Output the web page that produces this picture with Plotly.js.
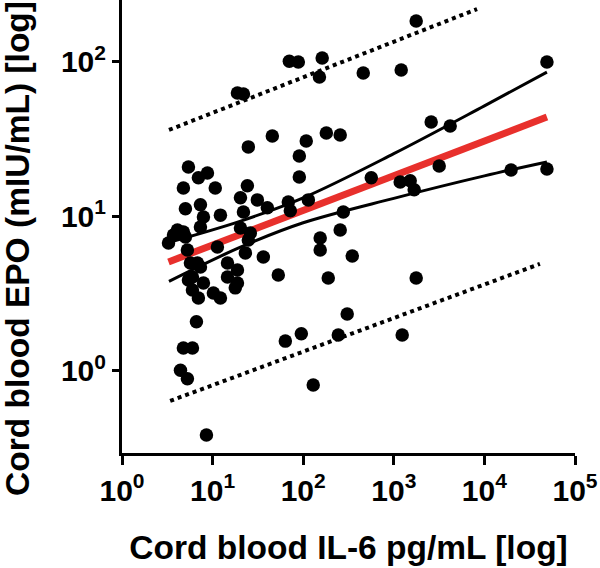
<!DOCTYPE html>
<html>
<head>
<meta charset="utf-8">
<script src="https://cdn.plot.ly/plotly-3.0.1.min.js"></script>
<style>html,body{margin:0;padding:0;background:#fff;}#chart{width:600px;height:568px;}</style>
</head>
<body>
<div id="chart"></div>
<script>
// Scatter data: cord blood IL-6 (pg/mL) vs cord blood EPO (mIU/mL)
var il6 = [
  49000, 49000, 19700, 1766, 2585, 4190, 3170, 1207, 460, 70.3,
  88.3, 162, 151, 45.6, 108, 180, 256, 90.6, 90.6, 564,
  1177, 1517, 1679, 277, 256, 154, 154, 348, 189, 1766,
  306, 63.5, 95.3, 244, 1238, 129, 18.8, 21.9, 24.8, 114,
  68.5, 72.1, 40.2, 31.2, 21.9, 24.2, 20.3, 36.3, 53.1, 20.3,
  26.1, 23.0, 18.8, 18.8, 24.8,
  5.41, 8.77, 6.97, 4.76, 10.7, 5.01, 7.34, 7.92, 12.2, 4.76,
  7.34, 3.70, 3.26, 5.27, 11.3, 5.01, 5.69, 7.34, 5.41, 7.92,
  14.6, 14.6, 17.8, 5.99, 6.97, 10.2, 12.2, 6.63, 4.76, 5.99,
  4.42, 5.27, 8.55, 5.99, 6.8, 4.09
];
var epo = [
  100, 20.3, 20.0, 184, 40.9, 38.5, 21.2, 88.8, 84.9, 101,
  100, 106, 80, 33.2, 30.8, 34.7, 33.7, 24.6, 18.0, 17.8,
  16.7, 17.0, 14.9, 10.7, 8.18, 7.26, 6.07, 5.55, 4.0, 4.0,
  2.34, 1.56, 1.74, 1.71, 1.71, 0.81, 63.0, 62.1, 28.2, 12.8,
  12.4, 10.9, 11.4, 12.8, 10.7, 15.8, 13.2, 5.47, 4.18, 8.43,
  7.82, 5.81, 4.5, 3.71, 7.05,
  20.9, 19.1, 17.8, 15.3, 15.3, 11.2, 11.9, 9.93, 10.2, 7.94,
  8.55, 7.59, 6.74, 6.07, 6.35, 7.37, 5.0, 4.71, 3.88, 3.71,
  5.0, 4.06, 3.45, 3.34, 2.97, 3.2, 2.97, 2.08, 1.41, 1.41,
  1.01, 0.89, 0.385, 4.06, 5.0, 8.18
];

// Regression line
var fitX = [3.26, 49000];
var fitY = [5.08, 44];

// 95% confidence band (solid black curves)
var ciX = [3.3, 20, 100, 1000, 10000, 49000];
var ciUpper = [6.8, 9.3, 13.2, 25.5, 52, 86];
var ciLower = [3.8, 6.3, 9.1, 13.1, 18.3, 22.5];

// 95% prediction band (dotted lines)
var piUpperX = [3.3, 8300];
var piUpperY = [36.3, 220];
var piLowerX = [3.4, 41000];
var piLowerY = [0.64, 4.93];

// Axis ticks and titles
var xTickVals = [1, 10, 100, 1000, 10000, 100000];
var xTickText = ['10<sup>0</sup>', '10<sup>1</sup>', '10<sup>2</sup>', '10<sup>3</sup>', '10<sup>4</sup>', '10<sup>5</sup>'];
var yTickVals = [1, 10, 100];
var yTickText = ['10<sup>0</sup>', '10<sup>1</sup>', '10<sup>2</sup>'];
var xTitle = 'Cord blood IL-6 pg/mL [log]';
var yTitle = 'Cord blood EPO (mIU/mL) [log]';

var FONT = 'Liberation Sans, Arial, Helvetica, sans-serif';
var TICKFONT = {family: FONT, size: 30, weight: 'bold', color: '#000'};
var TITLEFONT = {family: FONT, size: 33.5, weight: 'bold', color: '#000'};

var traces = [
  {x: piUpperX, y: piUpperY, mode: 'lines', line: {color: '#000', width: 4, dash: 'dot'}, hoverinfo: 'skip'},
  {x: piLowerX, y: piLowerY, mode: 'lines', line: {color: '#000', width: 4, dash: 'dot'}, hoverinfo: 'skip'},
  {x: ciX, y: ciUpper, mode: 'lines', line: {color: '#000', width: 3, shape: 'spline'}, hoverinfo: 'skip'},
  {x: ciX, y: ciLower, mode: 'lines', line: {color: '#000', width: 3, shape: 'spline'}, hoverinfo: 'skip'},
  {x: fitX, y: fitY, mode: 'lines', line: {color: '#e8302c', width: 7}, hoverinfo: 'skip'},
  {x: il6, y: epo, mode: 'markers', marker: {color: '#000', size: 13.5}}
];

var layout = {
  width: 600,
  height: 568,
  showlegend: false,
  paper_bgcolor: '#fff',
  plot_bgcolor: '#fff',
  margin: {l: 121.5, r: 25, t: 0, b: 115},
  font: {family: FONT, color: '#000', size: 27, weight: 'bold'},
  xaxis: {
    type: 'log',
    range: [0, 5],
    tickmode: 'array',
    tickvals: xTickVals,
    ticktext: xTickText,
    showgrid: false,
    zeroline: false,
    showline: true,
    linecolor: '#000',
    linewidth: 3,
    ticks: 'outside',
    ticklen: 9,
    tickwidth: 3,
    tickcolor: '#000',
    tickfont: TICKFONT,
    title: {text: xTitle, font: TITLEFONT, standoff: 30}
  },
  yaxis: {
    type: 'log',
    range: [-0.531, 2.401],
    tickmode: 'array',
    tickvals: yTickVals,
    ticktext: yTickText,
    showgrid: false,
    zeroline: false,
    showline: true,
    linecolor: '#000',
    linewidth: 3,
    ticks: 'outside',
    ticklen: 7,
    tickwidth: 3,
    tickcolor: '#000',
    tickfont: TICKFONT
  },
  annotations: [{
    text: yTitle,
    font: TITLEFONT,
    textangle: -90,
    xref: 'paper', yref: 'paper',
    x: 0, y: (453 - 249) / 453,
    xshift: -104,
    xanchor: 'center', yanchor: 'middle',
    showarrow: false
  }]
};

Plotly.newPlot('chart', traces, layout, {displayModeBar: false, staticPlot: true});
</script>
</body>
</html>
